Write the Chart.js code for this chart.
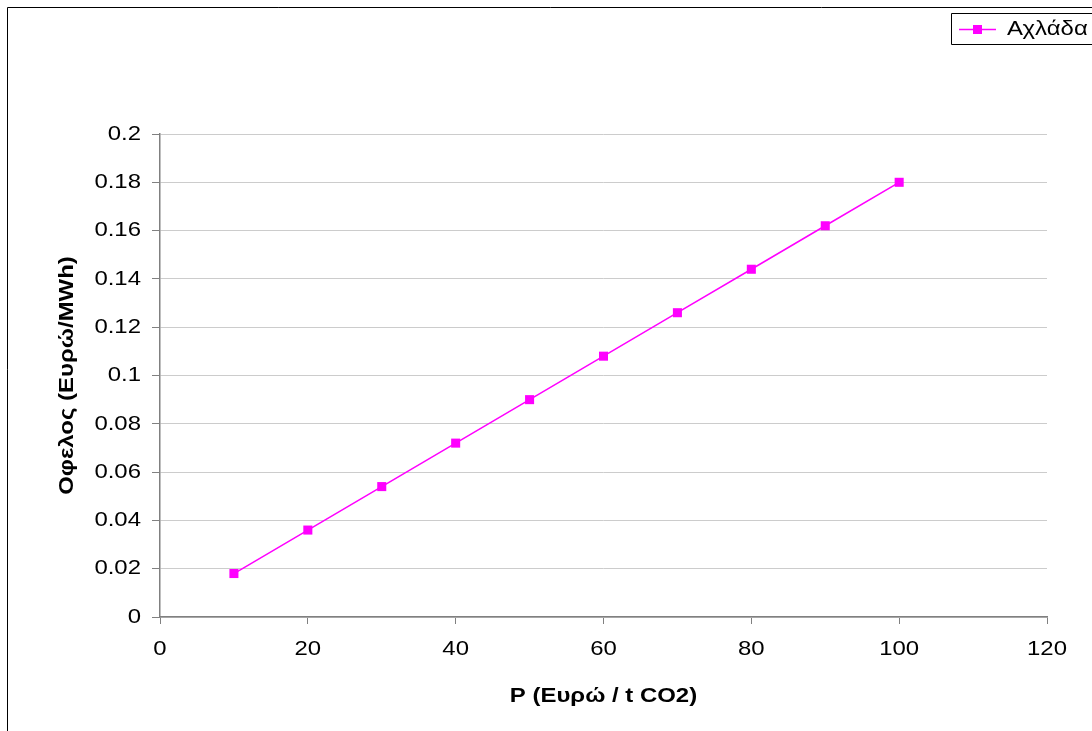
<!DOCTYPE html>
<html>
<head>
<meta charset="utf-8">
<script src="https://cdn.jsdelivr.net/npm/chart.js@4"></script>
<style>
  html, body { margin: 0; padding: 0; background: #ffffff; }
  #wrap { width: 1092px; height: 731px; position: relative; }
</style>
</head>
<body>
<div id="wrap"><canvas id="c" width="1092" height="731"></canvas></div>
<script>
const seriesName = 'Αχλάδα';
const xValues = [10, 20, 30, 40, 50, 60, 70, 80, 90, 100];
const yValues = [0.018, 0.036, 0.054, 0.072, 0.09, 0.108, 0.126, 0.144, 0.162, 0.18];
const xTicks = [0, 20, 40, 60, 80, 100, 120];
const yTicks = [0, 0.02, 0.04, 0.06, 0.08, 0.1, 0.12, 0.14, 0.16, 0.18, 0.2];
const yTickLabels = ['0', '0.02', '0.04', '0.06', '0.08', '0.1', '0.12', '0.14', '0.16', '0.18', '0.2'];
const xTitle = 'P (Ευρώ / t CO2)';
const yTitle = 'Οφελος (Ευρώ/MWh)';

const FONT = 'Liberation Sans, Arial, sans-serif';
const MAGENTA = '#FF00FF';
const TEXT_STRETCH = 1.14;

const canvas = document.getElementById('c');
const context = canvas.getContext('2d');
// The reference text is rendered slightly wider than the font; stretch it horizontally.
const origFillText = context.fillText.bind(context);
context.fillText = function (text, x, y, maxWidth) {
  this.save();
  this.translate(x, y);
  this.scale(TEXT_STRETCH, 1);
  origFillText(text, 0, 0);
  this.restore();
};

const framePlugin = {
  id: 'frame',
  afterDraw(chart) {
    const ctx = chart.ctx;
    ctx.save();
    ctx.strokeStyle = '#000000';
    ctx.lineWidth = 1;
    ctx.beginPath();
    ctx.moveTo(7.5, 740);
    ctx.lineTo(7.5, 7.5);
    ctx.lineTo(1100, 7.5);
    ctx.stroke();
    ctx.beginPath();
    ctx.moveTo(1100, 13.5);
    ctx.lineTo(951.5, 13.5);
    ctx.lineTo(951.5, 44.5);
    ctx.lineTo(1100, 44.5);
    ctx.stroke();
    const ds = chart.data.datasets[0];
    ctx.strokeStyle = ds.borderColor;
    ctx.lineWidth = 1.5;
    ctx.beginPath();
    ctx.moveTo(959, 29.5);
    ctx.lineTo(996, 29.5);
    ctx.stroke();
    ctx.fillStyle = ds.pointBackgroundColor;
    ctx.fillRect(973, 25, 9, 9);
    ctx.fillStyle = '#000000';
    ctx.font = '21px ' + FONT;
    ctx.textBaseline = 'middle';
    ctx.textAlign = 'left';
    ctx.fillText(ds.label, 1007, 29);
    ctx.restore();
  }
};

new Chart(canvas, {
  type: 'scatter',
  data: {
    datasets: [{
      label: seriesName,
      data: xValues.map((x, i) => ({ x: x, y: yValues[i] })),
      showLine: true,
      borderColor: MAGENTA,
      borderWidth: 1.5,
      pointStyle: 'rect',
      pointRadius: 6.4,
      pointHoverRadius: 6.4,
      pointBackgroundColor: MAGENTA,
      pointBorderColor: MAGENTA,
      pointBorderWidth: 0,
      tension: 0
    }]
  },
  options: {
    responsive: false,
    animation: false,
    devicePixelRatio: 1,
    layout: { padding: { left: 0, top: 134, right: 45, bottom: 0 } },
    plugins: {
      legend: { display: false },
      tooltip: { enabled: false }
    },
    scales: {
      x: {
        type: 'linear',
        min: 0, max: 120,
        afterBuildTicks(scale) { scale.ticks = xTicks.map(v => ({ value: v })); },
        afterFit(scale) { scale.height = 114; },
        grid: { drawOnChartArea: false, color: '#808080', tickColor: '#808080', tickLength: 7, lineWidth: 1 },
        border: { color: '#808080', width: 1.5 },
        ticks: { color: '#000000', font: { family: FONT, size: 21 }, padding: 13, maxRotation: 0, autoSkip: false },
        title: { display: true, text: xTitle, color: '#000000', font: { family: FONT, size: 21, weight: 'bold' }, padding: { top: 0, bottom: 22 } }
      },
      y: {
        type: 'linear',
        min: 0, max: 0.2,
        afterBuildTicks(scale) { scale.ticks = yTicks.map(v => ({ value: v })); },
        afterFit(scale) { scale.width = 160; },
        grid: { color: '#cccccc', tickColor: '#808080', tickLength: 8, lineWidth: 1 },
        border: { color: '#808080', width: 1.5 },
        ticks: {
          color: '#000000', font: { family: FONT, size: 21 }, padding: 11, autoSkip: false,
          callback: (v, i) => yTickLabels[i]
        },
        title: { display: true, text: yTitle, color: '#000000', font: { family: FONT, size: 21, weight: 'bold' }, padding: { top: 55, bottom: 0 } }
      }
    }
  },
  plugins: [framePlugin]
});
</script>
</body>
</html>
